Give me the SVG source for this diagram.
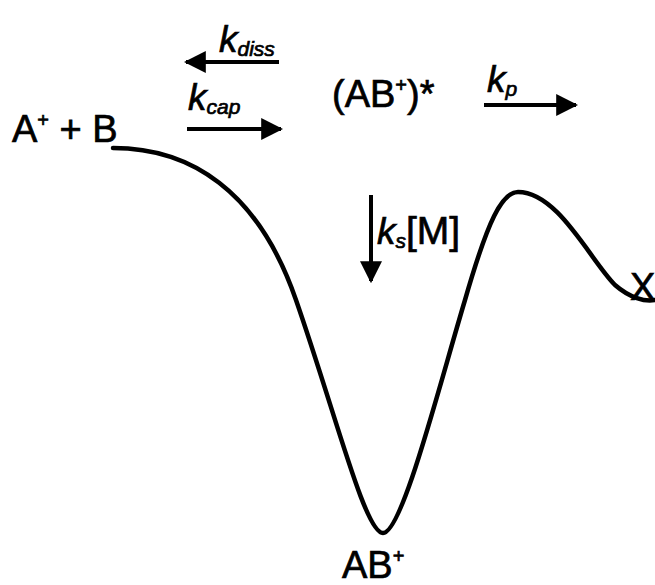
<svg xmlns="http://www.w3.org/2000/svg" width="655" height="585" viewBox="0 0 655 585">
<style>
.t{font-family:"Liberation Sans",Arial,sans-serif;fill:#000;stroke:#000;stroke-width:0.7}
.m{font-size:38px}
.k{font-size:37px;font-style:italic}
.s{font-size:21px;font-style:italic}
.sup{font-size:20px}
.ar{stroke:#000;stroke-width:4;fill:none}
</style>
<defs>
<marker id="ah" viewBox="0 0 10 10" refX="9" refY="5" markerWidth="5.5" markerHeight="6" orient="auto" markerUnits="strokeWidth">
<path d="M0,0 L10,5 L0,10 z" fill="#000"/>
</marker>
</defs>
<rect width="655" height="585" fill="#fff"/>
<g id="curve">
<path d="M113,148 C190,148 258,190 296,300 C336,415 365,533 383,533 C402,533 438,390 465,300 C488,220 502,192 518,192 C558,192 590,260 615,285 C630,298 645,302 655,300" fill="none" stroke="#000" stroke-width="4.5" stroke-linecap="round"/>
</g>
<g id="connectors">
<line class="ar" x1="279" y1="62" x2="186" y2="62" marker-end="url(#ah)"/>
<line class="ar" x1="187" y1="129" x2="281" y2="129" marker-end="url(#ah)"/>
<line class="ar" x1="484" y1="105" x2="576" y2="105" marker-end="url(#ah)"/>
<line class="ar" x1="371" y1="195" x2="371" y2="281" marker-end="url(#ah)"/>
</g>
<g id="reactants"><text class="t m" x="12" y="142">A<tspan class="sup" dy="-15">+</tspan><tspan dy="15"> + B</tspan></text></g>
<g id="kdiss"><text class="t" x="219" y="52"><tspan class="k">k</tspan><tspan class="s" dy="4">diss</tspan></text></g>
<g id="kcap"><text class="t" x="188" y="110"><tspan class="k">k</tspan><tspan class="s" dy="4">cap</tspan></text></g>
<g id="complex"><text class="t m" x="332" y="107">(AB<tspan class="sup" dy="-15">+</tspan><tspan dy="15">)*</tspan></text></g>
<g id="kp"><text class="t" x="487" y="92"><tspan class="k">k</tspan><tspan class="s" dy="4">p</tspan></text></g>
<g id="ks"><text class="t" x="377" y="244"><tspan class="k">k</tspan><tspan class="s" dy="4">s</tspan><tspan dy="-4" style="font-size:39px">[M]</tspan></text></g>
<g id="products"><text class="t m" x="630" y="300">X</text></g>
<g id="ab"><text class="t m" x="342" y="578">AB<tspan class="sup" dy="-15">+</tspan></text></g>
</svg>
